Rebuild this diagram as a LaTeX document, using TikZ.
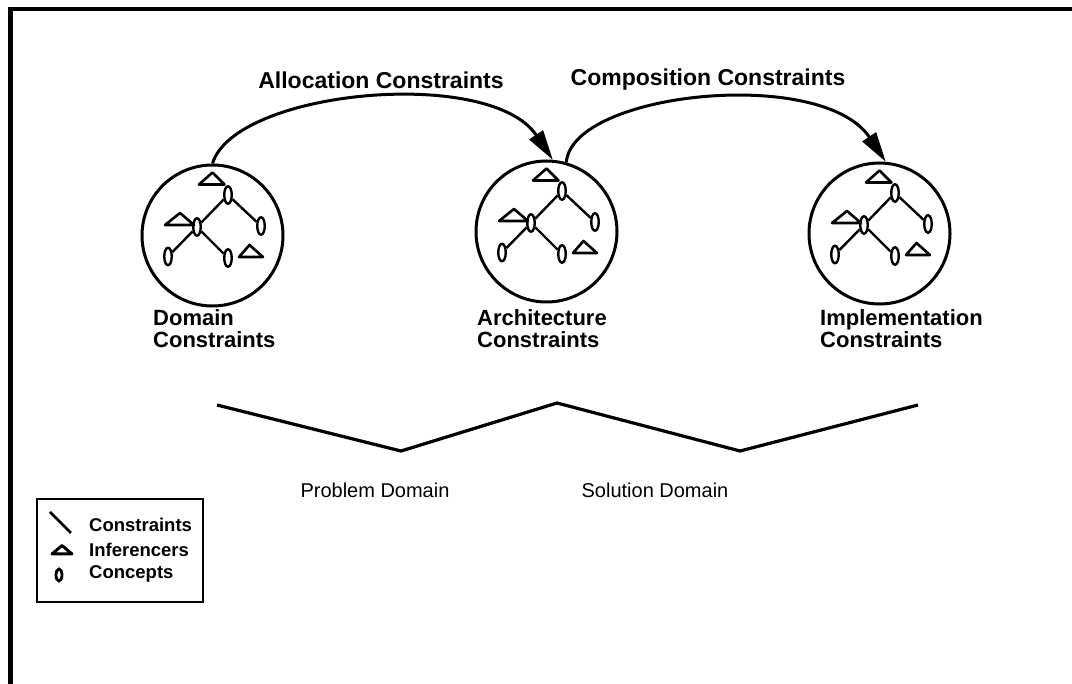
\documentclass[tikz,border=0pt]{standalone}
\usepackage{fontspec}
\setmainfont{Liberation Sans}
\usetikzlibrary{shapes.geometric,arrows.meta}
\begin{document}
\begin{tikzpicture}[x=1pt,y=-1pt,
  frameline/.style={line width=4.5pt},
  cspace/.style={circle,draw,line width=3pt,minimum size=141pt,inner sep=0pt},
  concept/.style={ellipse,draw,line width=2.4pt,minimum width=7.5pt,minimum height=17.5pt,inner sep=0pt},
  link/.style={line width=2.4pt},
  inferencer/.style={line width=2.6pt,line join=round},
  flow/.style={line width=3pt,-{Triangle[length=30pt,width=16pt]}},
  biglabel/.style={font=\fontsize{23}{26}\selectfont\bfseries,inner sep=0pt},
  boxlabel/.style={font=\fontsize{22}{22}\selectfont\bfseries,inner sep=0pt,anchor=base west,align=left},
  domlabel/.style={font=\fontsize{20}{22}\selectfont,inner sep=0pt},
  legendtext/.style={font=\fontsize{18.5}{20}\selectfont\bfseries,inner sep=0pt,anchor=west}]
\useasboundingbox (0,0) rectangle (1072,684);

% open frame: top and left edges only
\draw[frameline] (1072,9) -- (10.5,9) -- (10.5,684);

% the three constraint spaces
\node[cspace] (c1) at (212.5,235.5) {};
\node[cspace] (c2) at (546.5,231.5) {};
\node[cspace] (c3) at (879.5,233.5) {};

% concept / inferencer network inside each space
\foreach \i/\cx/\cy in {1/212.5/235.5, 2/546.5/231.5, 3/879.5/233.5} {
  \begin{scope}[shift={(\cx,\cy)}]
    \node[concept] (top\i) at (15.5,-40.5) {};
    \node[concept] (mid\i) at (-15.5,-8.5) {};
    \node[concept] (rt\i)  at (48.5,-9.5) {};
    \node[concept] (bl\i)  at (-44.5,21) {};
    \node[concept] (bm\i)  at (15.5,22.5) {};
    \draw[link] (top\i) -- (mid\i);
    \draw[link] (top\i) -- (rt\i);
    \draw[link] (mid\i) -- (bl\i);
    \draw[link] (mid\i) -- (bm\i);
    \draw[inferencer] (-13.5,-51) -- (0,-63) -- (12,-51) -- cycle;
    \draw[inferencer] (-47.5,-10.5) -- (-32.5,-22.5) -- (-18.5,-10.5) -- cycle;
    \draw[inferencer] (26.5,21.5) -- (37,9.5) -- (50.5,21.5) -- cycle;
  \end{scope}
}

% constraint flows between the spaces
\draw[flow] (c1.north) .. controls (235,90) and (490,66) .. (c2.85);
\draw[flow] (c2.74) .. controls (572,92) and (822,66) .. (c3.85);
\node[biglabel] (alloc) at (381,80) {Allocation Constraints};
\node[biglabel] (comp)  at (708,80) {Composition Constraints};

% labels of the spaces
\node[boxlabel] (ldom)  at (153,348) {Domain\\Constraints};
\node[boxlabel] (larch) at (477,348) {Architecture\\Constraints};
\node[boxlabel] (limp)  at (820,348) {Implementation\\Constraints};

% zigzag grouping the spaces into domains
\coordinate (z0) at (217,405);
\coordinate (z1) at (401,451);
\coordinate (z2) at (557,403);
\coordinate (z3) at (740,451);
\coordinate (z4) at (918,405);
\draw[line width=3.2pt,line join=round] (z0) -- (z1) -- (z2) -- (z3) -- (z4);
\node[domlabel] (prob) at (375,490) {Problem Domain};
\node[domlabel] (sol)  at (655,490) {Solution Domain};

% legend
\node[draw,line width=1.8pt,minimum width=166pt,minimum height=103pt,inner sep=0pt] (legend) at (120,550.5) {};
\draw[line width=2.8pt] (50,512) -- (71,533);
\draw[line width=3pt,line join=round] (52,554) -- (62,545.5) -- (72,554) -- cycle;
\node[ellipse,draw,line width=2.8pt,minimum width=6pt,minimum height=12pt,inner sep=0pt] (lgc) at (59,575) {};
\node[legendtext] (lt1) at (89,525) {Constraints};
\node[legendtext] (lt2) at (89,550) {Inferencers};
\node[legendtext] (lt3) at (89,574) {Concepts};
\end{tikzpicture}
\end{document}
